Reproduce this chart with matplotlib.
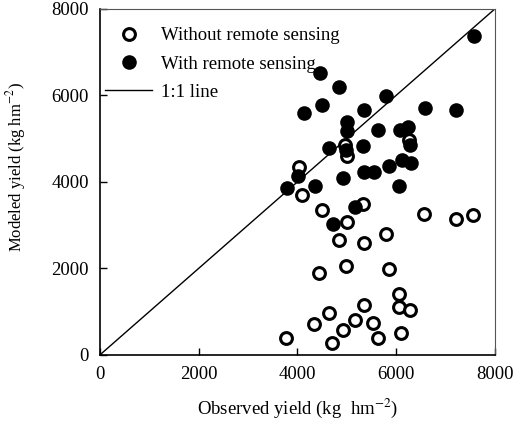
import matplotlib.pyplot as plt

plt.rcParams["font.family"] = ["Liberation Serif", "DejaVu Serif"]
plt.rcParams["mathtext.fontset"] = "stix"
plt.rcParams["font.size"] = 13.5

# observed vs modeled yield (kg/hm2)
obs_without = [4962, 5003, 4030, 4091, 4496, 5327, 5003, 4841, 5347, 5792,
               6562, 7210, 7554, 6258, 4435, 4982, 5853, 6056, 6056, 6278,
               5347, 4638, 4334, 5165, 4922, 5529, 5630, 6096, 4699, 3767]
mod_without = [4855, 4601, 4347, 3699, 3353, 3491, 3075, 2659, 2590, 2798,
               3260, 3145, 3237, 4971, 1896, 2058, 1988, 1410, 1110, 1040,
               1156, 971, 717, 809, 578, 740, 393, 509, 277, 393]

obs_with = [7570, 4456, 4841, 4496, 4132, 5792, 5347, 6582, 7210, 5003,
            5003, 5630, 6076, 6238, 6278, 4638, 4982, 5327, 5347, 5549,
            5853, 6116, 6299, 4922, 6056, 4354, 3787, 4010, 5165, 4719]
mod_with = [7370, 6520, 6197, 5780, 5595, 5988, 5665, 5711, 5665, 5387,
            5179, 5202, 5202, 5272, 4855, 4786, 4740, 4832, 4231, 4231,
            4370, 4509, 4439, 4092, 3908, 3908, 3861, 4139, 3422, 3029]

fig = plt.figure(figsize=(5.15, 4.22), dpi=100)
ax = fig.add_axes([0.194, 0.159, 0.767, 0.82])

ax.plot(obs_without, mod_without, "o", ls="none", mfc="white", mec="black",
        ms=8.5, mew=2.2, label="Without remote sensing", zorder=3)
ax.plot(obs_with, mod_with, "o", ls="none", mfc="black", mec="black",
        ms=10.5, mew=0, label="With remote sensing", zorder=4)
ax.plot([0, 8000], [0, 8000], color="black", lw=1, label="1:1 line", zorder=2)

ax.set_xlim(0, 8000)
ax.set_ylim(0, 8000)
ax.set_xticks([0, 2000, 4000, 6000, 8000])
ax.set_yticks([0, 2000, 4000, 6000, 8000])
ax.tick_params(direction="in", length=5, width=1, pad=8)
ax.spines["left"].set_linewidth(1.2)
ax.spines["bottom"].set_linewidth(1.2)
ax.spines["top"].set_color("#555555")
ax.spines["right"].set_color("#555555")

ax.set_xlabel("Observed yield (kg  hm$^{-2}$)", labelpad=10)
ax.set_ylabel("Modeled yield (kg hm$^{-2}$)", fontsize=12)
ax.yaxis.set_label_coords(-0.182, 0.543)

ax.legend(loc="upper left", bbox_to_anchor=(-0.02, 0.985), frameon=False,
          handlelength=2.5, handletextpad=0.5, labelspacing=0.6,
          borderaxespad=0.3)

fig.savefig("out.png", dpi=100)
